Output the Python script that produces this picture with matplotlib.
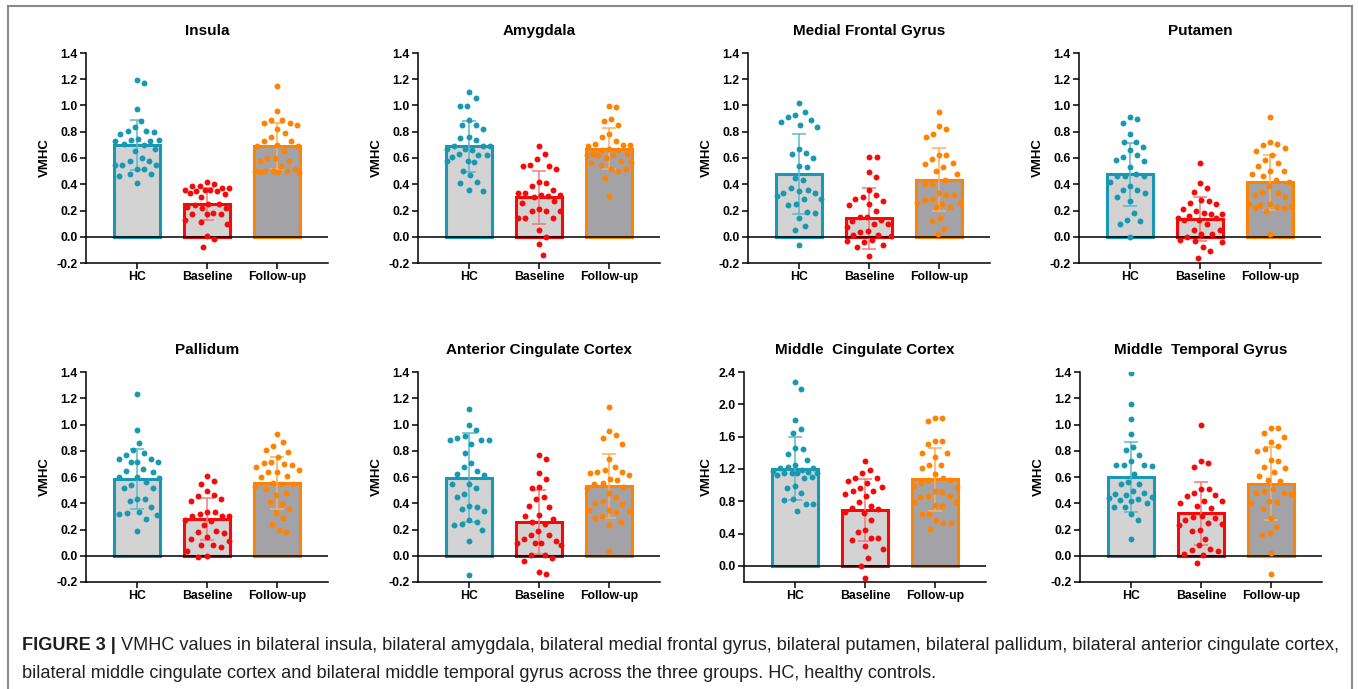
import matplotlib.pyplot as plt
import numpy as np
from matplotlib.lines import Line2D

plt.rcParams['font.family'] = ['Liberation Sans', 'DejaVu Sans']

GROUPS = ["HC", "Baseline", "Follow-up"]
REGIONS = ["Insula", "Amygdala", "Medial Frontal Gyrus", "Putamen",
           "Pallidum", "Anterior Cingulate Cortex", "Middle  Cingulate Cortex",
           "Middle  Temporal Gyrus"]

# --- values (VMHC per subject) ---
insula_hc = [1.17, 1.195, 0.97, 0.885, 0.84, 0.80, 0.805, 0.805, 0.78, 0.73, 0.735, 0.73, 0.745, 0.74, 0.705,
             0.67, 0.65, 0.60, 0.575, 0.58, 0.545, 0.545, 0.545, 0.52, 0.52, 0.46, 0.475, 0.475, 0.41, 0.70]
insula_bl = [0.42, 0.40, 0.39, 0.385, 0.37, 0.37, 0.36, 0.36, 0.35, 0.35, 0.33, 0.325, 0.30, 0.25, 0.25,
             0.245, 0.23, 0.22, 0.22, 0.17, 0.17, 0.18, 0.17, 0.13, 0.10, 0.11, 0.005, -0.02, -0.08, 0.36]
insula_fu = [1.15, 0.96, 0.89, 0.89, 0.85, 0.87, 0.87, 0.82, 0.79, 0.76, 0.73, 0.73, 0.69, 0.69, 0.70,
             0.65, 0.60, 0.58, 0.60, 0.58, 0.54, 0.52, 0.50, 0.50, 0.50, 0.50, 0.49, 0.49, 0.485]

amygdala_hc = [1.10, 1.06, 1.00, 1.00, 0.89, 0.85, 0.85, 0.82, 0.76, 0.75, 0.74, 0.69, 0.67, 0.69, 0.69,
               0.67, 0.63, 0.62, 0.61, 0.62, 0.58, 0.58, 0.57, 0.50, 0.47, 0.42, 0.41, 0.36, 0.35, 0.66]
amygdala_bl = [0.69, 0.63, 0.59, 0.54, 0.54, 0.545, 0.52, 0.42, 0.41, 0.385, 0.36, 0.335, 0.33, 0.32, 0.315,
               0.31, 0.30, 0.26, 0.27, 0.20, 0.20, 0.20, 0.21, 0.14, 0.14, 0.14, 0.05, 0.00, -0.055, -0.14]
amygdala_fu = [1.00, 0.985, 0.90, 0.885, 0.85, 0.78, 0.76, 0.73, 0.70, 0.71, 0.70, 0.69, 0.67, 0.66, 0.62,
               0.62, 0.62, 0.63, 0.63, 0.60, 0.58, 0.565, 0.57, 0.55, 0.52, 0.52, 0.50, 0.45, 0.31, 0.66]

mfg_hc = [1.02, 0.95, 0.93, 0.915, 0.89, 0.875, 0.85, 0.84, 0.67, 0.64, 0.63, 0.60, 0.54, 0.53, 0.45, 0.435,
          0.37, 0.36, 0.345, 0.335, 0.335, 0.31, 0.29, 0.285, 0.25, 0.24, 0.18, 0.19, 0.14, 0.08, 0.055, -0.065]
mfg_bl = [0.605, 0.605, 0.49, 0.455, 0.355, 0.32, 0.30, 0.29, 0.275, 0.25, 0.24, 0.20, 0.15, 0.15, 0.125,
          0.10, 0.10, 0.12, 0.075, 0.045, 0.04, 0.015, 0.015, 0.005, -0.03, -0.04, -0.025, -0.065, -0.08, -0.15]
mfg_fu = [0.95, 0.845, 0.82, 0.78, 0.76, 0.62, 0.62, 0.59, 0.56, 0.555, 0.53, 0.50, 0.475, 0.43, 0.405, 0.40,
          0.335, 0.32, 0.32, 0.29, 0.28, 0.25, 0.255, 0.255, 0.23, 0.23, 0.14, 0.12, 0.06, 0.02]

putamen_hc = [0.915, 0.90, 0.87, 0.785, 0.725, 0.725, 0.685, 0.66, 0.62, 0.61, 0.585, 0.58, 0.53, 0.475, 0.46,
              0.46, 0.46, 0.42, 0.385, 0.355, 0.355, 0.335, 0.30, 0.27, 0.18, 0.125, 0.12, 0.095, 0.00]
putamen_bl = [0.56, 0.41, 0.37, 0.34, 0.28, 0.255, 0.27, 0.25, 0.215, 0.195, 0.175, 0.18, 0.17, 0.155, 0.145,
              0.14, 0.13, 0.125, 0.10, 0.055, 0.05, 0.02, 0.02, 0.00, -0.035, -0.025, -0.04, -0.08, -0.11, -0.16]
putamen_fu = [0.915, 0.72, 0.71, 0.70, 0.68, 0.655, 0.62, 0.585, 0.56, 0.54, 0.50, 0.50, 0.475, 0.46, 0.435,
              0.42, 0.39, 0.335, 0.34, 0.315, 0.30, 0.25, 0.25, 0.24, 0.235, 0.22, 0.22, 0.225, 0.195, 0.02]

pallidum_hc = [1.235, 0.96, 0.86, 0.805, 0.785, 0.77, 0.74, 0.735, 0.715, 0.715, 0.715, 0.66, 0.64, 0.645,
               0.60, 0.60, 0.59, 0.565, 0.54, 0.515, 0.515, 0.43, 0.43, 0.42, 0.375, 0.325, 0.32, 0.33, 0.31,
               0.28, 0.19]
pallidum_bl = [0.605, 0.57, 0.55, 0.495, 0.465, 0.455, 0.435, 0.42, 0.33, 0.33, 0.32, 0.30, 0.30, 0.30, 0.27,
               0.265, 0.235, 0.19, 0.18, 0.17, 0.14, 0.125, 0.11, 0.085, 0.085, 0.07, 0.04, 0.00, -0.01]
pallidum_fu = [0.925, 0.865, 0.835, 0.805, 0.79, 0.755, 0.715, 0.70, 0.705, 0.69, 0.675, 0.655, 0.64, 0.64,
               0.61, 0.60, 0.555, 0.55, 0.55, 0.535, 0.505, 0.48, 0.465, 0.41, 0.395, 0.36, 0.325, 0.285,
               0.24, 0.20, 0.18]

acc_hc = [1.115, 0.995, 0.96, 0.91, 0.90, 0.885, 0.88, 0.88, 0.85, 0.78, 0.71, 0.675, 0.645, 0.62, 0.615,
          0.545, 0.545, 0.52, 0.47, 0.45, 0.38, 0.375, 0.355, 0.34, 0.26, 0.27, 0.24, 0.235, 0.195, 0.115, -0.145]
acc_bl = [0.765, 0.74, 0.63, 0.585, 0.525, 0.52, 0.45, 0.43, 0.38, 0.37, 0.31, 0.30, 0.28, 0.26, 0.24, 0.19,
          0.155, 0.155, 0.13, 0.11, 0.095, 0.095, 0.095, 0.08, 0.005, 0.005, -0.015, -0.04, -0.125, -0.14]
acc_fu = [1.135, 0.95, 0.92, 0.895, 0.85, 0.74, 0.68, 0.655, 0.635, 0.64, 0.63, 0.615, 0.585, 0.58, 0.555,
          0.55, 0.52, 0.525, 0.48, 0.45, 0.405, 0.42, 0.395, 0.35, 0.35, 0.34, 0.335, 0.305, 0.29, 0.26,
          0.235, 0.04]

mcc_hc = [2.28, 2.19, 1.81, 1.70, 1.65, 1.455, 1.445, 1.39, 1.31, 1.25, 1.21, 1.215, 1.22, 1.19, 1.145, 1.15,
          1.15, 1.15, 1.16, 1.17, 1.13, 1.10, 1.085, 0.99, 0.97, 0.905, 0.825, 0.82, 0.77, 0.76, 0.68]
mcc_bl = [1.30, 1.185, 1.145, 1.085, 1.085, 1.05, 1.02, 0.98, 0.97, 0.93, 0.93, 0.895, 0.86, 0.785, 0.735,
          0.72, 0.70, 0.67, 0.66, 0.565, 0.445, 0.425, 0.34, 0.32, 0.34, 0.25, 0.21, 0.095, 0.00, -0.145]
mcc_fu = [1.825, 1.83, 1.795, 1.54, 1.55, 1.51, 1.40, 1.40, 1.35, 1.245, 1.25, 1.21, 1.135, 1.06, 1.085, 1.06,
          1.02, 0.99, 0.98, 0.915, 0.93, 0.865, 0.85, 0.87, 0.785, 0.785, 0.74, 0.755, 0.645, 0.64, 0.565,
          0.535, 0.525, 0.455]

mtg_hc = [1.395, 1.155, 1.045, 0.93, 0.83, 0.805, 0.765, 0.72, 0.685, 0.69, 0.69, 0.69, 0.625, 0.565, 0.55,
          0.545, 0.475, 0.47, 0.49, 0.46, 0.45, 0.44, 0.43, 0.425, 0.42, 0.40, 0.375, 0.375, 0.315, 0.275, 0.13]
mtg_bl = [1.00, 0.725, 0.71, 0.68, 0.51, 0.51, 0.48, 0.465, 0.455, 0.415, 0.415, 0.40, 0.38, 0.365, 0.30,
          0.295, 0.285, 0.27, 0.25, 0.235, 0.24, 0.20, 0.19, 0.13, 0.085, 0.045, 0.05, 0.04, 0.015, 0.005, -0.055]
mtg_fu = [0.97, 0.975, 0.935, 0.905, 0.865, 0.84, 0.81, 0.80, 0.73, 0.725, 0.68, 0.67, 0.635, 0.605, 0.575,
          0.57, 0.505, 0.49, 0.48, 0.475, 0.47, 0.42, 0.41, 0.40, 0.355, 0.29, 0.22, 0.175, 0.155, 0.02, -0.14]

# bar heights (group means) and error bars (SD) as drawn
insula_mean, insula_sd = [0.70, 0.25, 0.69], [0.19, 0.125, 0.175]
amygdala_mean, amygdala_sd = [0.69, 0.30, 0.67], [0.195, 0.20, 0.155]
mfg_mean, mfg_sd = [0.48, 0.14, 0.435], [0.305, 0.23, 0.24]
putamen_mean, putamen_sd = [0.475, 0.135, 0.415], [0.24, 0.165, 0.21]
pallidum_mean, pallidum_sd = [0.585, 0.28, 0.555], [0.225, 0.16, 0.195]
acc_mean, acc_sd = [0.595, 0.255, 0.53], [0.34, 0.245, 0.245]
mcc_mean, mcc_sd = [1.205, 0.695, 1.075], [0.39, 0.385, 0.39]
mtg_mean, mtg_sd = [0.60, 0.325, 0.55], [0.27, 0.24, 0.28]

panel_points = [
    [insula_hc, insula_bl, insula_fu], [amygdala_hc, amygdala_bl, amygdala_fu],
    [mfg_hc, mfg_bl, mfg_fu], [putamen_hc, putamen_bl, putamen_fu],
    [pallidum_hc, pallidum_bl, pallidum_fu], [acc_hc, acc_bl, acc_fu],
    [mcc_hc, mcc_bl, mcc_fu], [mtg_hc, mtg_bl, mtg_fu],
]
panel_means = [insula_mean, amygdala_mean, mfg_mean, putamen_mean,
               pallidum_mean, acc_mean, mcc_mean, mtg_mean]
panel_sds = [insula_sd, amygdala_sd, mfg_sd, putamen_sd,
             pallidum_sd, acc_sd, mcc_sd, mtg_sd]

DOT = ["#1798b3", "#f50a0a", "#ff8200"]
ERR = ["#5cb9cd", "#f47a7a", "#ffae5c"]
FILL = ["#d3d3d3", "#d3d3d3", "#a3a3a7"]

W, H = 1358, 689
fig = plt.figure(figsize=(W / 100, H / 100), dpi=100)


def swarm(vals, px_per_y, d=7.5, cap=22.0, ysq=0.55):
    """beeswarm offsets in pixels, kept within +-cap.
    vertical distances are squeezed (ysq) so nearby rows spread sideways like Prism does"""
    ys = np.asarray(vals) * px_per_y * ysq
    placed = []
    xs = np.zeros(len(ys))
    grid = np.linspace(-cap, cap, 45)
    for i in np.argsort(-ys):
        y = ys[i]
        near = [(xp, yp) for xp, yp in placed if abs(yp - y) < d]
        cands = [0.0]
        for xp, yp in near:
            r = np.sqrt(d ** 2 - (yp - y) ** 2)
            cands += [xp + r, xp - r]
        cands = [c for c in cands if abs(c) <= cap]
        cands.sort(key=abs)
        found = False
        for c in cands:
            if all((c - xp) ** 2 + (y - yp) ** 2 >= d ** 2 - 1e-6 for xp, yp in near):
                xs[i] = c
                found = True
                break
        if not found:
            # no free slot inside the cap: take the least crowded spot
            score = [min((c - xp) ** 2 + (y - yp) ** 2 for xp, yp in near) for c in grid]
            xs[i] = grid[int(np.argmax(score))]
        placed.append((xs[i], y))
    return xs


lefts = [86, 418, 748, 1079, 86, 418, 744, 1080]
tops = [53] * 4 + [372] * 4
ax_w, ax_h = 242, 210
xlim = (-0.73, 2.73)

for k in range(8):
    ax = fig.add_axes([lefts[k] / W, 1 - (tops[k] + ax_h) / H, ax_w / W, ax_h / H])
    if k == 6:
        ylim = (-0.2, 2.4)
        yticks = np.arange(0, 2.41, 0.4)
    else:
        ylim = (-0.2, 1.4)
        yticks = np.arange(-0.2, 1.41, 0.2)
    ax.set_xlim(*xlim)
    ax.set_ylim(*ylim)
    px_y = ax_h / (ylim[1] - ylim[0])
    px_x = ax_w / (xlim[1] - xlim[0])

    for g in range(3):
        ax.bar(g, panel_means[k][g], width=0.66, color=FILL[g], edgecolor=DOT[g],
               linewidth=2.2, zorder=2)
        ax.errorbar(g, panel_means[k][g], yerr=panel_sds[k][g], color=ERR[g],
                    elinewidth=1.1, capsize=5, capthick=1.1, zorder=3)
        offs = swarm(panel_points[k][g], px_y) / px_x
        ax.scatter(g + offs, panel_points[k][g], s=18, color=DOT[g], linewidths=0, zorder=5)

    ax.axhline(0, color="black", lw=1.1, zorder=4)
    ax.set_xticks(range(3))
    ax.set_xticklabels(GROUPS, fontsize=8.8, fontweight="bold")
    ax.set_yticks(yticks)
    ax.set_yticklabels([f"{v:.1f}".replace("-0.0", "0.0") for v in yticks],
                       fontsize=8.8, fontweight="bold")
    ax.tick_params(length=4, width=1.1, pad=2)
    ax.set_ylabel("VMHC", fontsize=9.5, fontweight="bold", labelpad=4)
    ax.set_title(REGIONS[k], fontsize=11, fontweight="bold", pad=13)
    for s in ["top", "right"]:
        ax.spines[s].set_visible(False)
    for s in ["left", "bottom"]:
        ax.spines[s].set_linewidth(1.1)

# frame around figure
fc = "#8a8a8a"
fig.add_artist(Line2D([8 / W, 8 / W], [0, 1 - 6 / H], color=fc, lw=1.5))
fig.add_artist(Line2D([8 / W, 1352 / W], [1 - 6 / H, 1 - 6 / H], color=fc, lw=1.5))
fig.add_artist(Line2D([1352 / W, 1352 / W], [0, 1 - 6 / H], color=fc, lw=1.5))

# caption
cap_col = "#231f20"
cap_fs = 13.05
t1 = fig.text(22 / W, 1 - 645 / H, "FIGURE 3 |", fontsize=cap_fs, fontweight="bold",
              color=cap_col, va="center")
fig.canvas.draw()
bb = t1.get_window_extent(fig.canvas.get_renderer())
fig.text((bb.x1 + 5) / W, 1 - 645 / H,
         "VMHC values in bilateral insula, bilateral amygdala, bilateral medial frontal gyrus, "
         "bilateral putamen, bilateral pallidum, bilateral anterior cingulate cortex,",
         fontsize=cap_fs, color=cap_col, va="center")
fig.text(22 / W, 1 - 673 / H,
         "bilateral middle cingulate cortex and bilateral middle temporal gyrus across the three "
         "groups. HC, healthy controls.",
         fontsize=cap_fs, color=cap_col, va="center")

fig.savefig("out.png", dpi=100)
